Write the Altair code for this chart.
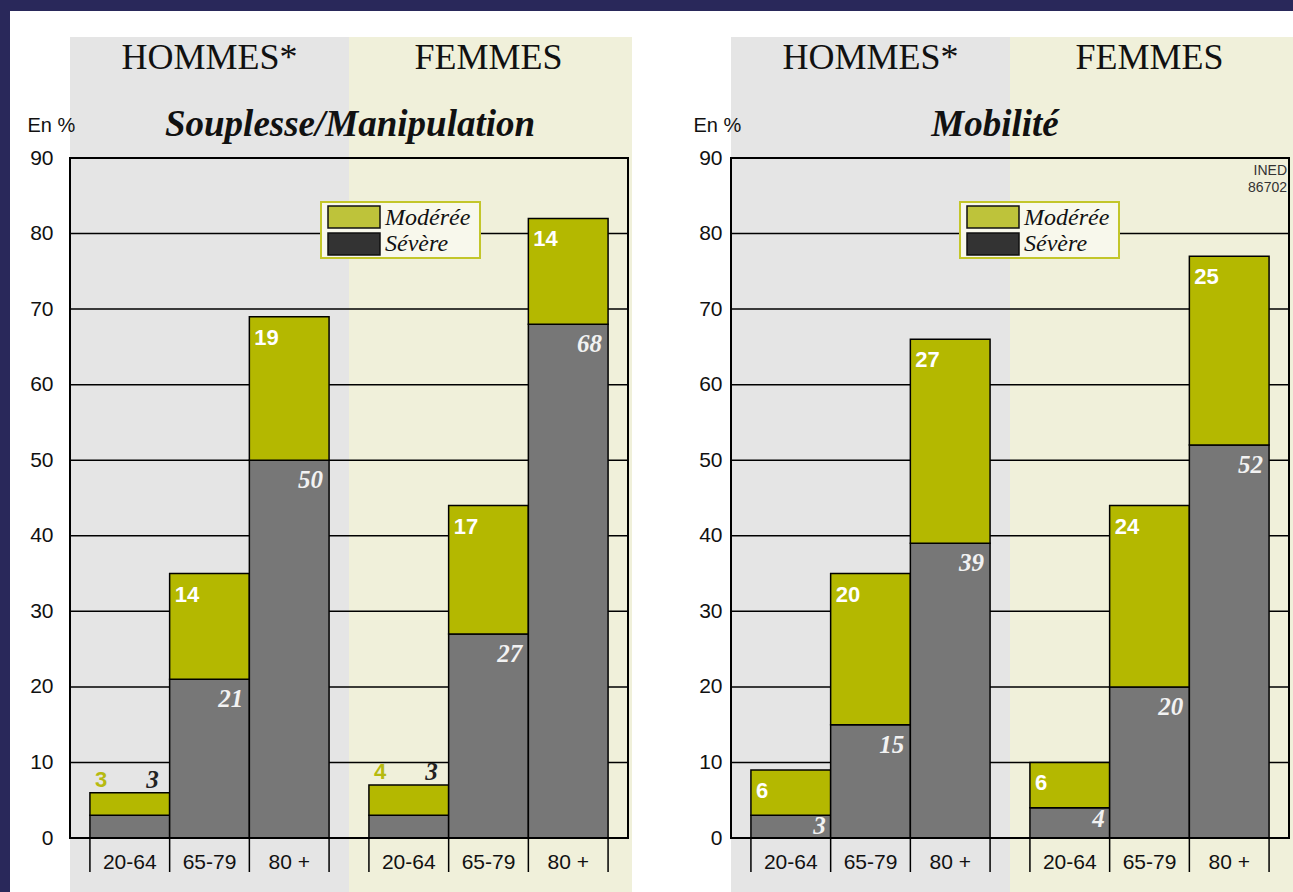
import altair as alt
import pandas as pd

# ---------------- data ----------------
ages = ["20-64", "65-79", "80 +"]
sexes = ["HOMMES*", "FEMMES"]
segments = ["Modérée", "Sévère"]
y_ticks = [0, 10, 20, 30, 40, 50, 60, 70, 80, 90]

panel_titles = ["Souplesse/Manipulation", "Mobilité"]
y_unit = "En %"
source_lines = ["INED", "86702"]

souplesse_severe_h = [3, 21, 50]
souplesse_moderate_h = [3, 14, 19]
souplesse_severe_f = [3, 27, 68]
souplesse_moderate_f = [4, 17, 14]

mobilite_severe_h = [3, 15, 39]
mobilite_moderate_h = [6, 20, 27]
mobilite_severe_f = [4, 20, 52]
mobilite_moderate_f = [6, 24, 25]

# ---------------- style ----------------
NAVY = "#29285a"
GREY_BG = "#e5e5e5"
BEIGE_BG = "#f0f0da"
OLIVE = "#b4b800"
SEVERE = "#777777"
LEG_MOD = "#bec33a"
LEG_SEV = "#333333"
LEG_FILL = "#f8f8ec"
LEG_STROKE = "#c3c62a"
TEXT = "#111111"

SANS = "Liberation Sans"
SERIF = "Liberation Serif"

W, H = 558, 680
X_DOMAIN = [-0.25, 6.75]
GROUP_STEP = 3.5  # three bars + half-bar gap


def build_table(sev_h, mod_h, sev_f, mod_f):
    rows = []
    for s_i, (sex, sev, mod) in enumerate([(sexes[0], sev_h, mod_h), (sexes[1], sev_f, mod_f)]):
        for a_i, age in enumerate(ages):
            x0 = s_i * GROUP_STEP + a_i
            rows.append(dict(sex=sex, age=age, x0=x0, x1=x0 + 1, xc=x0 + 0.5,
                             severe=sev[a_i], moderate=mod[a_i], total=sev[a_i] + mod[a_i]))
    return pd.DataFrame(rows)


def panel(sev_h, mod_h, sev_f, mod_f, subtitle, subtitle_px, legend_px,
          label_pad, unit_x, with_source, with_border):
    df = build_table(sev_h, mod_h, sev_f, mod_f)
    long_rows = []
    for _, r in df.iterrows():
        long_rows.append(dict(segment="Sévère", x0=r.x0, x1=r.x1, start=0, end=r.severe))
        long_rows.append(dict(segment="Modérée", x0=r.x0, x1=r.x1, start=r.severe, end=r.total))
    long = pd.DataFrame(long_rows)
    one = pd.DataFrame({"k": [0]})

    xs = alt.Scale(domain=X_DOMAIN, nice=False, zero=False)
    ys = alt.Scale(domain=[0, 90], nice=False)
    yaxis = alt.Axis(values=y_ticks, ticks=False, tickSize=0, domain=False, grid=False, zindex=1,
                     labelAlign="right", labelBaseline="middle", labelPadding=label_pad,
                     labelFont=SANS, labelFontSize=21, labelColor=TEXT,
                     title=y_unit, titleAngle=0, titleAlign="left", titleBaseline="middle",
                     titleX=unit_x, titleY=-33, titleFont=SANS, titleFontSize=20,
                     titleFontWeight="normal", titleColor=TEXT)

    def X(f):
        return alt.X(f, scale=xs, axis=None)

    def Y(f):
        return alt.Y(f, scale=ys, axis=yaxis)

    shade = pd.DataFrame({"sex": sexes, "a": [-0.25, 3.25], "b": [3.25, 6.8], "xc": [1.5, 5.0]})

    layers = []
    if with_border:
        layers.append(alt.Chart(one).mark_rect(color=NAVY).encode(
            x=alt.value(-70), x2=alt.value(1223), y=alt.value(-158), y2=alt.value(-147)))
        layers.append(alt.Chart(one).mark_rect(color=NAVY).encode(
            x=alt.value(-70), x2=alt.value(-60), y=alt.value(-158), y2=alt.value(H + 54)))

    layers.append(alt.Chart(shade).mark_rect().encode(
        x=X("a:Q"), x2="b:Q", y=alt.value(-121), y2=alt.value(H + 54),
        fill=alt.Fill("sex:N", scale=alt.Scale(domain=sexes, range=[GREY_BG, BEIGE_BG]), legend=None)))

    grid = pd.DataFrame({"v": y_ticks[1:-1]})
    layers.append(alt.Chart(grid).mark_rule(color="black", strokeWidth=1.5).encode(
        y=Y("v:Q"), x=alt.value(0), x2=alt.value(W)))

    layers.append(alt.Chart(long).mark_rect(stroke="black", strokeWidth=1.5).encode(
        x=X("x0:Q"), x2="x1:Q", y=Y("start:Q"), y2="end:Q",
        color=alt.Color("segment:N", scale=alt.Scale(domain=segments, range=[OLIVE, SEVERE]), legend=None)))

    mod_style = dict(font=SANS, fontWeight="bold", fontSize=22, align="left", baseline="middle")
    sev_style = dict(font=SERIF, fontStyle="italic", fontWeight="bold", fontSize=25,
                     align="right", baseline="middle")
    # labels inside bars
    layers.append(alt.Chart(df).transform_filter("datum.moderate >= 5").mark_text(
        dx=5, dy=21, color="white", **mod_style).encode(x=X("x0:Q"), y=Y("total:Q"), text="moderate:Q"))
    layers.append(alt.Chart(df).transform_filter("datum.severe >= 5").mark_text(
        dx=-6, dy=20, color="#f2f2f2", **sev_style).encode(x=X("x1:Q"), y=Y("severe:Q"), text="severe:Q"))
    layers.append(alt.Chart(df).transform_filter("datum.severe < 5 && datum.moderate >= 5").mark_text(
        dx=-5, dy=11, color="#f2f2f2", **sev_style).encode(x=X("x1:Q"), y=Y("severe:Q"), text="severe:Q"))
    # labels above small bars
    layers.append(alt.Chart(df).transform_filter("datum.moderate < 5").mark_text(
        dx=5, dy=-13, color="#b6ba10", **mod_style).encode(x=X("x0:Q"), y=Y("total:Q"), text="moderate:Q"))
    layers.append(alt.Chart(df).transform_filter("datum.moderate < 5").mark_text(
        dx=-11, dy=-13, color="#222222", **sev_style).encode(x=X("x1:Q"), y=Y("total:Q"), text="severe:Q"))

    # frame
    layers.append(alt.Chart(one).mark_rect(fill="transparent", stroke="black", strokeWidth=2).encode(
        x=alt.value(0), x2=alt.value(W), y=alt.value(0), y2=alt.value(H)))

    # category separators and labels
    edges = pd.DataFrame({"e": sorted(set(df.x0) | set(df.x1))})
    layers.append(alt.Chart(edges).mark_rule(color="black", strokeWidth=1.5).encode(
        x=X("e:Q"), y=alt.value(H), y2=alt.value(H + 34)))
    layers.append(alt.Chart(df).mark_text(font=SANS, fontSize=21, color=TEXT, baseline="middle").encode(
        x=X("xc:Q"), y=alt.value(H + 25), text="age:N"))

    # headers
    layers.append(alt.Chart(shade).mark_text(font=SERIF, fontSize=36, color=TEXT, baseline="middle").encode(
        x=X("xc:Q"), y=alt.value(-100), text="sex:N"))
    layers.append(alt.Chart(one).mark_text(text=subtitle, font=SERIF, fontStyle="italic", fontWeight="bold",
                                           fontSize=37, color=TEXT, baseline="middle").encode(
        x=alt.value(subtitle_px), y=alt.value(-33)))

    # legend
    lx = legend_px
    layers.append(alt.Chart(one).mark_rect(fill=LEG_FILL, stroke=LEG_STROKE, strokeWidth=2).encode(
        x=alt.value(lx), x2=alt.value(lx + 159), y=alt.value(44), y2=alt.value(100)))
    for i, (lab, col) in enumerate(zip(segments, [LEG_MOD, LEG_SEV])):
        layers.append(alt.Chart(one).mark_rect(fill=col, stroke="#111111", strokeWidth=1.5).encode(
            x=alt.value(lx + 7), x2=alt.value(lx + 59), y=alt.value(48 + i * 27), y2=alt.value(70 + i * 27)))
        layers.append(alt.Chart(one).mark_text(text=lab, font=SERIF, fontStyle="italic", fontSize=24,
                                               color=TEXT, align="left", baseline="middle").encode(
            x=alt.value(lx + 64), y=alt.value(60 + i * 26)))

    if with_source:
        layers.append(alt.Chart(one).mark_text(text=source_lines, font=SANS, fontSize=14, lineHeight=17,
                                               color="#333333", align="right", baseline="top").encode(
            x=alt.value(W - 2), y=alt.value(6)))

    return alt.layer(*layers).properties(width=W, height=H)


left = panel(souplesse_severe_h, souplesse_moderate_h, souplesse_severe_f, souplesse_moderate_f,
             panel_titles[0], 280, 251, 17, -43, False, True)
right = panel(mobilite_severe_h, mobilite_moderate_h, mobilite_severe_f, mobilite_moderate_f,
              panel_titles[1], 264, 229, 9, -38, True, False)

chart = alt.hconcat(left, right, spacing=103, bounds="flush").properties(
    padding=0, background="white").configure_view(strokeWidth=0)

chart.save("out.html", embed_options={"renderer": "svg", "actions": False})
